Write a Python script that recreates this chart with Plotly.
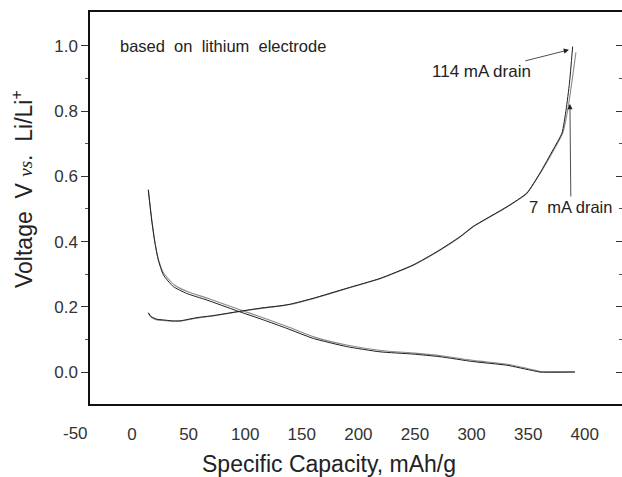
import plotly.graph_objects as go

# ---- data ----
charge_cap_114 = [14.4, 17, 22, 27.4, 35, 42.4, 57.4, 71.6, 92.8, 115.7, 130.7, 139.6, 159.9, 189.9,
                  219.1, 248.2, 269.4, 289.8, 301.2, 331.3, 348.9, 360.4, 371.9, 379.9, 383.5, 386.5, 389.3]
charge_v_114 = [0.182, 0.170, 0.162, 0.160, 0.157, 0.157, 0.167, 0.173, 0.185, 0.197, 0.203, 0.208, 0.226,
                0.257, 0.287, 0.328, 0.369, 0.415, 0.446, 0.507, 0.549, 0.610, 0.681, 0.733, 0.804, 0.886, 0.998]
charge_cap_7 = [14.4, 17, 22, 27.4, 35, 42.4, 57.4, 71.6, 92.8, 115.7, 130.7, 139.6, 159.9, 189.9,
                219.1, 248.2, 269.4, 289.8, 301.2, 331.3, 348.9, 360.4, 372.5, 380.5, 385.0, 388.5, 392.2]
charge_v_7 = [0.180, 0.168, 0.160, 0.158, 0.156, 0.156, 0.165, 0.172, 0.184, 0.196, 0.202, 0.207, 0.225,
              0.256, 0.286, 0.327, 0.368, 0.414, 0.445, 0.506, 0.548, 0.608, 0.680, 0.733, 0.804, 0.886, 0.980]

discharge_cap_114 = [14.4, 17.4, 20.3, 23.2, 27.7, 36.5, 48.3, 66.0, 92.5, 116.0, 136.7, 160.2, 189.7,
                     219.1, 248.5, 272.1, 301.5, 331.0, 354.5, 360.4, 391.3]
discharge_v_114 = [0.558, 0.466, 0.395, 0.344, 0.298, 0.262, 0.241, 0.221, 0.188, 0.160, 0.134, 0.103, 0.078,
                   0.062, 0.055, 0.047, 0.032, 0.021, 0.004, 0.000, 0.000]
discharge_cap_7 = [14.4, 17.4, 20.3, 23.2, 28.2, 37.5, 49.3, 67.0, 93.5, 117.0, 137.7, 161.2, 190.7,
                   220.1, 249.5, 273.1, 302.5, 332.0, 355.5, 361.4, 391.3]
discharge_v_7 = [0.560, 0.468, 0.398, 0.347, 0.302, 0.267, 0.246, 0.226, 0.193, 0.165, 0.139, 0.107, 0.082,
                 0.066, 0.058, 0.050, 0.035, 0.024, 0.006, 0.001, 0.001]

x_tick_vals = [0, 50, 100, 150, 200, 250, 300, 350, 400]
x_tick_text = ["0", "50", "100", "150", "200", "250", "300", "350", "400"]
x_extra_label = "-50"
y_tick_vals = [0.0, 0.2, 0.4, 0.6, 0.8, 1.0]
y_tick_text = ["0.0", "0.2", "0.4", "0.6", "0.8", "1.0"]
y_minor_vals = [0.1, 0.3, 0.5, 0.7, 0.9]

FONT = "Liberation Sans, Arial, sans-serif"
W, H = 622, 477
L, R, T, B = 90, 0, 12, 73
PW, PH = W - L - R, H - T - B


def px(x):
    return (x - L) / PW


def py(y):
    return (H - B - y) / PH


line_shape = dict(shape="spline", smoothing=0.5)

fig = go.Figure()
fig.add_trace(go.Scatter(x=charge_cap_7, y=charge_v_7, mode="lines",
                         line=dict(color="#8a8a8a", width=1.1, **line_shape), showlegend=False))
fig.add_trace(go.Scatter(x=discharge_cap_7, y=discharge_v_7, mode="lines",
                         line=dict(color="#8a8a8a", width=1.1, **line_shape), showlegend=False))
fig.add_trace(go.Scatter(x=charge_cap_114, y=charge_v_114, mode="lines",
                         line=dict(color="#1e1e1e", width=1.0, **line_shape), showlegend=False))
fig.add_trace(go.Scatter(x=discharge_cap_114, y=discharge_v_114, mode="lines",
                         line=dict(color="#1e1e1e", width=1.0, **line_shape), showlegend=False))
# invisible trace to carry the right-hand tick axis
fig.add_trace(go.Scatter(x=[None], y=[None], yaxis="y2", showlegend=False, hoverinfo="skip"))

fig.update_layout(
    width=W, height=H,
    margin=dict(l=L, r=R, t=T, b=B, autoexpand=False),
    paper_bgcolor="white", plot_bgcolor="white",
    font=dict(family=FONT, color="#222"),
    xaxis=dict(range=[-37.1, 432.9], tickvals=x_tick_vals, ticktext=x_tick_text,
               ticks="", ticklabelstandoff=14, showgrid=False, zeroline=False,
               showline=True, linecolor="#111", linewidth=2, mirror=True,
               tickfont=dict(size=17, color="#333", family=FONT)),
    yaxis=dict(range=[-0.098, 1.104], tickvals=y_tick_vals, ticktext=y_tick_text,
               ticks="outside", ticklen=7, tickwidth=1, tickcolor="#333",
               minor=dict(ticks="outside", ticklen=3, tickwidth=1, tickcolor="#555",
                          tickvals=y_minor_vals),
               showgrid=False, zeroline=False,
               showline=True, linecolor="#111", linewidth=1.5,
               tickfont=dict(size=17, color="#333", family=FONT)),
    yaxis2=dict(range=[-0.098, 1.104], overlaying="y", side="right",
                tickvals=y_tick_vals, ticks="inside", ticklen=6, tickwidth=1, tickcolor="#333",
                minor=dict(ticks="inside", ticklen=3, tickwidth=1, tickcolor="#555",
                           tickvals=y_minor_vals),
                showticklabels=False, showgrid=False, zeroline=False, showline=False),
)

annotations = [
    dict(text="based  on  lithium  electrode", x=px(118), y=py(46), xref="paper", yref="paper",
         xanchor="left", yanchor="middle", showarrow=False, font=dict(size=16.5, color="#222")),
    dict(text="114 mA drain", x=386.0, y=0.988, xref="x", yref="y", ax=-87, ay=22,
         showarrow=True, arrowhead=2, arrowsize=1.3, arrowwidth=0.8, arrowcolor="#222",
         font=dict(size=17, color="#222")),
    dict(text="7  mA drain", x=386.9, y=0.822, xref="x", yref="y", ax=1, ay=103,
         showarrow=True, arrowhead=2, arrowsize=1.3, arrowwidth=0.8, arrowcolor="#222",
         font=dict(size=16.5, color="#222")),
    dict(text=x_extra_label, x=px(75), y=py(433), xref="paper", yref="paper",
         xanchor="center", yanchor="middle", showarrow=False, font=dict(size=17, color="#333")),
    dict(text="Specific Capacity, mAh/g", x=px(329), y=py(464), xref="paper", yref="paper",
         xanchor="center", yanchor="middle", showarrow=False, font=dict(size=23, color="#222")),
    dict(text="Voltage  V <i><span style='font-family:Liberation Serif, Times New Roman, serif;font-size:19px'>vs</span></i>.  Li/Li<sup>+</sup>",
         x=px(22), y=py(189), xref="paper", yref="paper", textangle=-90,
         xanchor="center", yanchor="middle", showarrow=False, font=dict(size=23, color="#222")),
]
fig.update_layout(annotations=annotations)

fig.write_html("out.html", config={"displayModeBar": False},
               post_script="document.body.style.margin='0';document.body.style.overflow='hidden';")
